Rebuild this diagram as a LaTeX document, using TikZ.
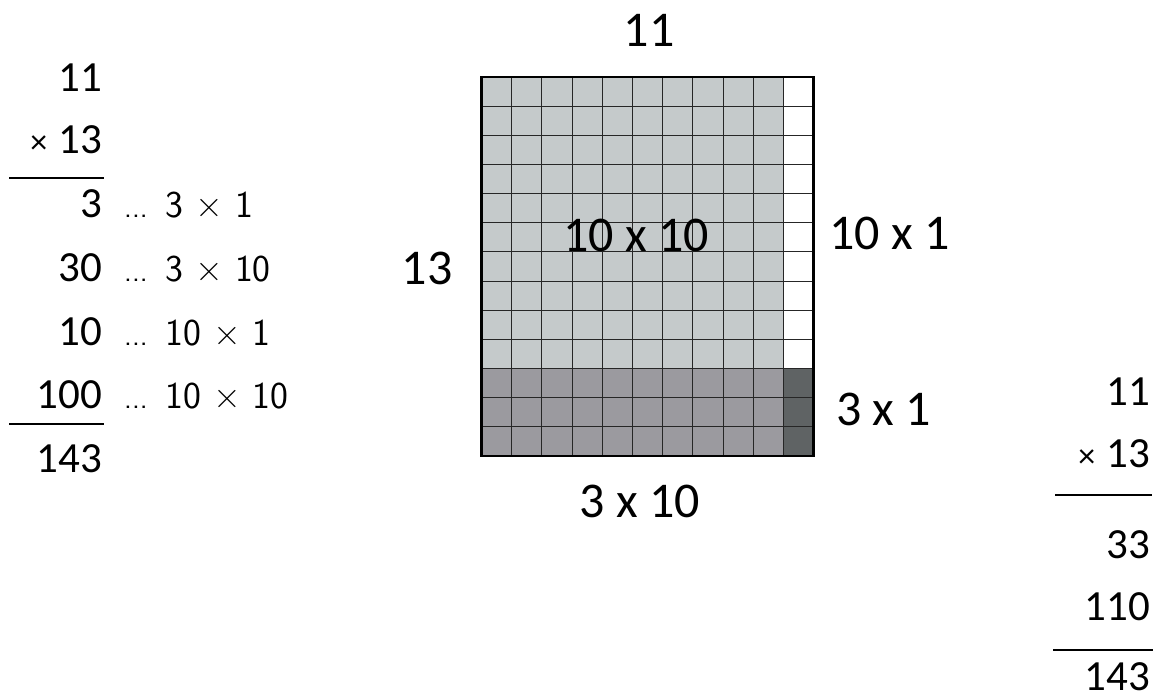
\documentclass[tikz,border=0pt]{standalone}
\usepackage{fontspec}
\setmainfont{Carlito}
\usepackage{xcolor}
\usetikzlibrary{positioning}
\definecolor{lightsq}{HTML}{C5CACB}
\definecolor{midsq}{HTML}{9B9A9F}
\definecolor{darksq}{HTML}{5F6364}

\begin{document}
\begin{tikzpicture}[x=1pt,y=-1pt,
  lbl/.style={font=\fontsize{50}{60}\selectfont,inner sep=0pt,anchor=base},
  num/.style={font=\fontsize{43}{50}\selectfont,inner sep=0pt,anchor=base east},
  note/.style={font=\fontsize{38}{46}\selectfont\sffamily,inner sep=0pt},
  rule/.style={line width=2.2pt},
  cell/.style={line width=0.9pt,black!85}]
\useasboundingbox (0,0) rectangle (1155,700);
% area model
\def\cw{30.18}\def\ch{29.15}
\coordinate (tl) at (481.5,77);
\coordinate (br) at (813.5,456);
\fill[lightsq] (tl) rectangle (783.3,368.5);
\fill[midsq] (481.5,368.5) rectangle (783.3,456);
\fill[darksq] (783.3,368.5) rectangle (br);
\foreach \i in {1,...,10}
  \draw[cell] (481.5+\i*\cw,77) -- ++(0,379);
\foreach \j in {1,...,12}
  \draw[cell] (481.5,77+\j*\ch) -- ++(332,0);
\draw[line width=2.2pt] (tl) rectangle (br);
\node[lbl] (top) at (649,47) {11};
\node[lbl] (side) at (427,285) {13};
\node[lbl] (big) at (636,252) {10 x 10};
\node[lbl,anchor=base west] (col) at (829,250) {10 x 1};
\node[lbl,anchor=base west] (corner) at (836,425) {3 x 1};
\node[lbl] (bot) at (640,517) {3 x 10};
% partial products
\node[num] (a1) at (102,92) {11};
\node[num] (a2) at (102,154) {\fontsize{34}{40}\selectfont×\hspace{11pt}\fontsize{43}{50}\selectfont 13};
\node[num] (p1) at (102,218) {3};
\node[num] (p2) at (102,282) {30};
\node[num] (p3) at (102,345) {10};
\node[num] (p4) at (102,408) {100};
\node[num] (s1) at (102,472) {143};
\draw[rule] (9,178) -- (104,178);
\draw[rule] (9,424) -- (104,424);
\node[note,base right=22pt of p1] (n1) {\fontsize{30}{36}\selectfont...\hspace{18pt}\fontsize{38}{46}\selectfont 3 × 1};
\node[note,base right=22pt of p2] (n2) {\fontsize{30}{36}\selectfont...\hspace{18pt}\fontsize{38}{46}\selectfont 3 × 10};
\node[note,base right=22pt of p3] (n3) {\fontsize{30}{36}\selectfont...\hspace{18pt}\fontsize{38}{46}\selectfont 10 × 1};
\node[note,base right=22pt of p4] (n4) {\fontsize{30}{36}\selectfont...\hspace{18pt}\fontsize{38}{46}\selectfont 10 × 10};
% standard method
\node[num] (b1) at (1150,405) {11};
\node[num] (b2) at (1150,467) {\fontsize{34}{40}\selectfont×\hspace{11pt}\fontsize{43}{50}\selectfont 13};
\node[num] (q1) at (1150,558) {33};
\node[num] (q2) at (1150,620) {110};
\node[num] (s2) at (1150,690) {143};
\draw[rule] (1055,495) -- (1152,495);
\draw[rule] (1053,650) -- (1153,650);
\end{tikzpicture}
\end{document}
